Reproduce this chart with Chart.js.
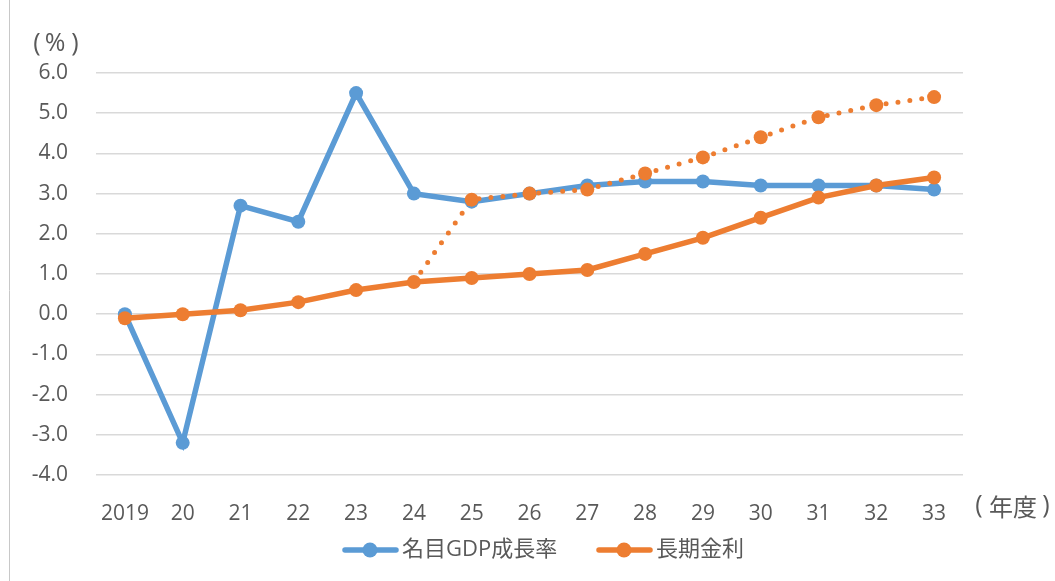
<!DOCTYPE html>
<html lang="ja">
<head>
  <meta charset="UTF-8" />
  <title>名目GDP成長率と長期金利</title>
  <script src="https://cdn.jsdelivr.net/npm/chart.js"></script>
  <style>
    html, body { margin: 0; padding: 0; background: #fff; }
    #wrap { width: 1055px; height: 581px; }
  </style>
</head>
<body>
  <div id="wrap"><canvas id="chart" width="1055" height="581"></canvas></div>

  <script>
    const years = ['2019', '20', '21', '22', '23', '24', '25', '26', '27', '28', '29', '30', '31', '32', '33'];
    const gdpGrowth = [0.0, -3.2, 2.7, 2.3, 5.5, 3.0, 2.8, 3.0, 3.2, 3.3, 3.3, 3.2, 3.2, 3.2, 3.1];
    const longRate = [-0.1, 0.0, 0.1, 0.3, 0.6, 0.8, 0.9, 1.0, 1.1, 1.5, 1.9, 2.4, 2.9, 3.2, 3.4];
    // alternative path for the long-term rate (dotted), branching from 24
    const longRateAlt = [null, null, null, null, null, 0.8, 2.85, 3.0, 3.1, 3.5, 3.9, 4.4, 4.9, 5.2, 5.4];

    const BLUE = '#5B9BD5';
    const ORANGE = '#ED7D31';
    const TEXT = '#595959';
    const FONT = '"Open Sans", "Noto Sans CJK JP", sans-serif';

    // extra texts, legend and the left frame line
    const decor = {
      id: 'decor',
      afterDraw(chart) {
        const ctx = chart.ctx;
        ctx.save();
        ctx.strokeStyle = '#c8c8c8';
        ctx.lineWidth = 1;
        ctx.beginPath();
        ctx.moveTo(9.5, 0);
        ctx.lineTo(9.5, 581);
        ctx.stroke();

        ctx.fillStyle = TEXT;
        ctx.textBaseline = 'middle';
        ctx.textAlign = 'center';
        // unit labels
        ctx.font = '25px ' + FONT;
        ctx.fillText('(', 37, 44);
        ctx.fillText('%', 55, 44);
        ctx.fillText(')', 75, 44);
        ctx.fillText('(', 979, 506);
        ctx.fillText(')', 1046, 506);
        ctx.font = '24px "Noto Sans CJK JP", sans-serif';
        ctx.fillText('年度', 1013, 507);

        const items = [
          { label: '名目GDP成長率', color: BLUE, x: 343 },
          { label: '長期金利', color: ORANGE, x: 597 }
        ];
        const y = 550;
        ctx.font = '22px ' + FONT;
        ctx.textAlign = 'left';
        items.forEach(it => {
          ctx.strokeStyle = it.color;
          ctx.lineWidth = 5.5;
          ctx.lineCap = 'round';
          ctx.beginPath();
          ctx.moveTo(it.x + 2, y);
          ctx.lineTo(it.x + 53, y);
          ctx.stroke();
          ctx.fillStyle = it.color;
          ctx.beginPath();
          ctx.arc(it.x + 27, y, 7.5, 0, Math.PI * 2);
          ctx.fill();
          ctx.fillStyle = TEXT;
          ctx.fillText(it.label, it.x + 59, y);
        });
        ctx.restore();
      }
    };

    new Chart(document.getElementById('chart').getContext('2d'), {
      type: 'line',
      data: {
        labels: years,
        datasets: [
          {
            label: '名目GDP成長率',
            data: gdpGrowth,
            borderColor: BLUE,
            backgroundColor: BLUE,
            borderWidth: 5.5,
            pointRadius: 7,
            pointBorderWidth: 0,
            order: 3
          },
          {
            label: '長期金利',
            data: longRate,
            borderColor: ORANGE,
            backgroundColor: ORANGE,
            borderWidth: 5.5,
            pointRadius: 7,
            pointBorderWidth: 0,
            order: 1
          },
          {
            label: '長期金利（別ケース）',
            data: longRateAlt,
            borderColor: ORANGE,
            backgroundColor: ORANGE,
            borderWidth: 5,
            borderDash: [0, 12],
            borderCapStyle: 'round',
            pointRadius: ctx => ctx.dataIndex === 5 ? 0 : 7,
            pointBorderWidth: 0,
            order: 2
          }
        ]
      },
      options: {
        responsive: false,
        animation: false,
        events: [],
        layout: { padding: { top: 73, right: 92, bottom: 0, left: 0 } },
        plugins: {
          legend: { display: false },
          tooltip: { enabled: false }
        },
        scales: {
          x: {
            offset: true,
            grid: { display: false },
            border: { display: false },
            ticks: { color: TEXT, font: { family: FONT, size: 21 }, padding: 18, maxRotation: 0 },
            afterFit: s => { s.height = 106; }
          },
          y: {
            min: -4,
            max: 6,
            grid: { color: '#d9d9d9', lineWidth: 1.5, drawTicks: false },
            border: { display: false },
            ticks: {
              stepSize: 1,
              color: TEXT,
              font: { family: FONT, size: 21 },
              padding: 28,
              callback: v => v.toFixed(1)
            },
            afterFit: s => { s.width = 96; }
          }
        }
      },
      plugins: [decor]
    });
  </script>
</body>
</html>
